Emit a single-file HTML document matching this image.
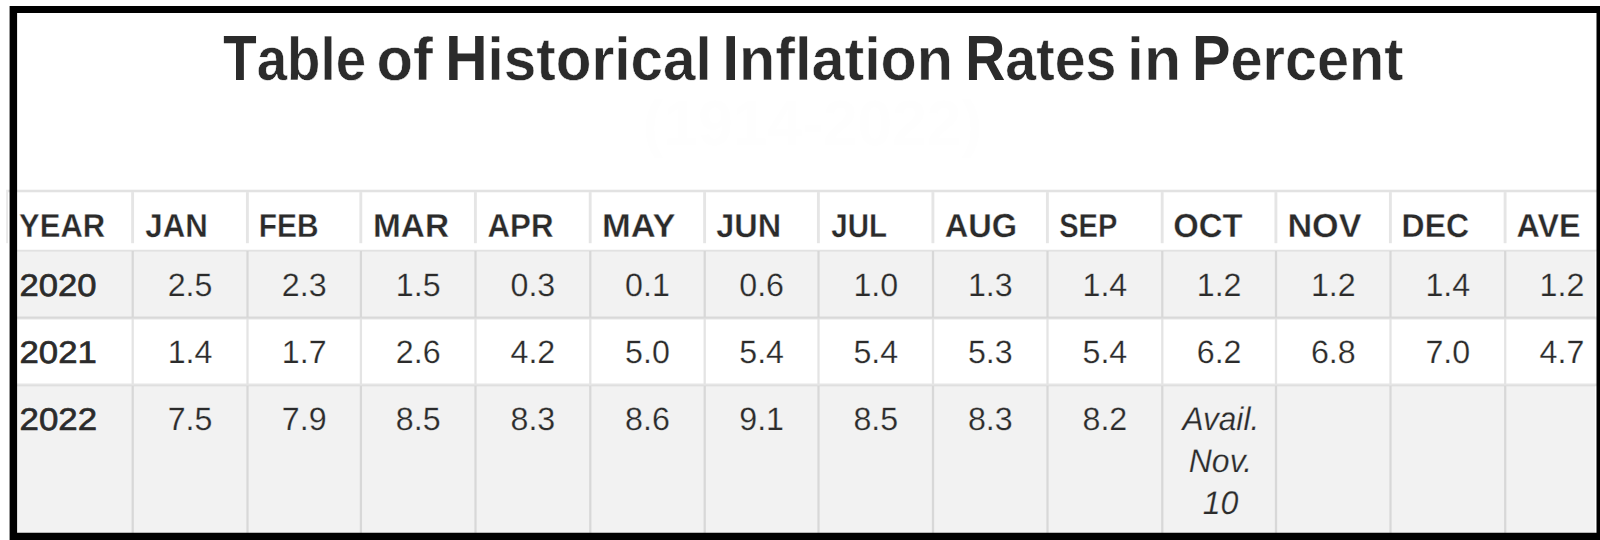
<!DOCTYPE html>
<html><head><meta charset="utf-8"><title>Table of Historical Inflation Rates in Percent</title>
<style>
*{margin:0;padding:0;box-sizing:border-box}
html,body{width:1600px;height:540px;overflow:hidden;background:#fff}
body{position:relative;font-family:"Liberation Sans",sans-serif;color:#2b2b2b}
.t{position:absolute;left:0;top:0;white-space:nowrap;line-height:1;transform-origin:0 0;text-rendering:geometricPrecision}
.lc{display:inline-block;transform:scaleY(0.95);transform-origin:0 53px;-webkit-text-stroke:0.55px #fff}
.b{font-weight:bold}.r{font-weight:normal}.i{font-style:italic;font-weight:normal}
</style></head><body>
<svg width="1600" height="540" viewBox="0 0 1600 540" style="position:absolute;left:0;top:0">
<defs><filter id="bl" x="-5%" y="-5%" width="110%" height="110%"><feGaussianBlur stdDeviation="0.6"/></filter><filter id="bf" x="-5%" y="-5%" width="110%" height="110%"><feGaussianBlur stdDeviation="0.4"/></filter></defs>
<rect x="17" y="250.5" width="1578" height="68" fill="#f2f2f2"/>
<rect x="17" y="385.5" width="1578" height="148" fill="#f2f2f2"/>
<g filter="url(#bl)">
<rect x="8.0" y="189.7" width="1590" height="2.6" fill="#000" fill-opacity="0.115"/>
<rect x="6.1" y="189.7" width="1.9" height="53.5" fill="#000" fill-opacity="0.085"/>
<rect x="131.15" y="192.3" width="2.9" height="50.9" fill="#000" fill-opacity="0.1"/>
<rect x="245.95" y="192.3" width="2.9" height="50.9" fill="#000" fill-opacity="0.1"/>
<rect x="359.35" y="192.3" width="2.9" height="50.9" fill="#000" fill-opacity="0.1"/>
<rect x="473.95" y="192.3" width="2.9" height="50.9" fill="#000" fill-opacity="0.1"/>
<rect x="588.75" y="192.3" width="2.9" height="50.9" fill="#000" fill-opacity="0.1"/>
<rect x="703.15" y="192.3" width="2.9" height="50.9" fill="#000" fill-opacity="0.1"/>
<rect x="816.95" y="192.3" width="2.9" height="50.9" fill="#000" fill-opacity="0.1"/>
<rect x="931.45" y="192.3" width="2.9" height="50.9" fill="#000" fill-opacity="0.1"/>
<rect x="1045.95" y="192.3" width="2.9" height="50.9" fill="#000" fill-opacity="0.1"/>
<rect x="1160.75" y="192.3" width="2.9" height="50.9" fill="#000" fill-opacity="0.1"/>
<rect x="1274.45" y="192.3" width="2.9" height="50.9" fill="#000" fill-opacity="0.1"/>
<rect x="1388.95" y="192.3" width="2.9" height="50.9" fill="#000" fill-opacity="0.1"/>
<rect x="1503.65" y="192.3" width="2.9" height="50.9" fill="#000" fill-opacity="0.1"/>
<rect x="17" y="249.7" width="1580" height="1.8" fill="#000" fill-opacity="0.09"/>
<rect x="131.55" y="251.3" width="2.3" height="65.3" fill="#000" fill-opacity="0.105"/>
<rect x="131.55" y="319.4" width="2.3" height="64.2" fill="#000" fill-opacity="0.105"/>
<rect x="131.55" y="386.2" width="2.3" height="147.8" fill="#000" fill-opacity="0.105"/>
<rect x="246.35" y="251.3" width="2.3" height="65.3" fill="#000" fill-opacity="0.105"/>
<rect x="246.35" y="319.4" width="2.3" height="64.2" fill="#000" fill-opacity="0.105"/>
<rect x="246.35" y="386.2" width="2.3" height="147.8" fill="#000" fill-opacity="0.105"/>
<rect x="359.75" y="251.3" width="2.3" height="65.3" fill="#000" fill-opacity="0.105"/>
<rect x="359.75" y="319.4" width="2.3" height="64.2" fill="#000" fill-opacity="0.105"/>
<rect x="359.75" y="386.2" width="2.3" height="147.8" fill="#000" fill-opacity="0.105"/>
<rect x="474.35" y="251.3" width="2.3" height="65.3" fill="#000" fill-opacity="0.105"/>
<rect x="474.35" y="319.4" width="2.3" height="64.2" fill="#000" fill-opacity="0.105"/>
<rect x="474.35" y="386.2" width="2.3" height="147.8" fill="#000" fill-opacity="0.105"/>
<rect x="589.15" y="251.3" width="2.3" height="65.3" fill="#000" fill-opacity="0.105"/>
<rect x="589.15" y="319.4" width="2.3" height="64.2" fill="#000" fill-opacity="0.105"/>
<rect x="589.15" y="386.2" width="2.3" height="147.8" fill="#000" fill-opacity="0.105"/>
<rect x="703.55" y="251.3" width="2.3" height="65.3" fill="#000" fill-opacity="0.105"/>
<rect x="703.55" y="319.4" width="2.3" height="64.2" fill="#000" fill-opacity="0.105"/>
<rect x="703.55" y="386.2" width="2.3" height="147.8" fill="#000" fill-opacity="0.105"/>
<rect x="817.35" y="251.3" width="2.3" height="65.3" fill="#000" fill-opacity="0.105"/>
<rect x="817.35" y="319.4" width="2.3" height="64.2" fill="#000" fill-opacity="0.105"/>
<rect x="817.35" y="386.2" width="2.3" height="147.8" fill="#000" fill-opacity="0.105"/>
<rect x="931.85" y="251.3" width="2.3" height="65.3" fill="#000" fill-opacity="0.105"/>
<rect x="931.85" y="319.4" width="2.3" height="64.2" fill="#000" fill-opacity="0.105"/>
<rect x="931.85" y="386.2" width="2.3" height="147.8" fill="#000" fill-opacity="0.105"/>
<rect x="1046.35" y="251.3" width="2.3" height="65.3" fill="#000" fill-opacity="0.105"/>
<rect x="1046.35" y="319.4" width="2.3" height="64.2" fill="#000" fill-opacity="0.105"/>
<rect x="1046.35" y="386.2" width="2.3" height="147.8" fill="#000" fill-opacity="0.105"/>
<rect x="1161.15" y="251.3" width="2.3" height="65.3" fill="#000" fill-opacity="0.105"/>
<rect x="1161.15" y="319.4" width="2.3" height="64.2" fill="#000" fill-opacity="0.105"/>
<rect x="1161.15" y="386.2" width="2.3" height="147.8" fill="#000" fill-opacity="0.105"/>
<rect x="1274.85" y="251.3" width="2.3" height="65.3" fill="#000" fill-opacity="0.105"/>
<rect x="1274.85" y="319.4" width="2.3" height="64.2" fill="#000" fill-opacity="0.105"/>
<rect x="1274.85" y="386.2" width="2.3" height="147.8" fill="#000" fill-opacity="0.105"/>
<rect x="1389.35" y="251.3" width="2.3" height="65.3" fill="#000" fill-opacity="0.105"/>
<rect x="1389.35" y="319.4" width="2.3" height="64.2" fill="#000" fill-opacity="0.105"/>
<rect x="1389.35" y="386.2" width="2.3" height="147.8" fill="#000" fill-opacity="0.105"/>
<rect x="1504.05" y="251.3" width="2.3" height="65.3" fill="#000" fill-opacity="0.105"/>
<rect x="1504.05" y="319.4" width="2.3" height="64.2" fill="#000" fill-opacity="0.105"/>
<rect x="1504.05" y="386.2" width="2.3" height="147.8" fill="#000" fill-opacity="0.105"/>
<rect x="17" y="316.5" width="1580" height="3.0" fill="#000" fill-opacity="0.1"/>
<rect x="17" y="383.5" width="1580" height="2.8" fill="#000" fill-opacity="0.1"/>
</g>
<path filter="url(#bf)" fill="#000" fill-rule="evenodd" d="M9.6 5.9H1610V550H9.6Z M17.1 13H1596.5V532.8H17.1Z"/>
</svg>
<span class="t b" style="font-size:63.8px;transform:translate(223.26px,27.00px) scaleX(0.8569);">T<span class="lc">able</span></span>
<span class="t b" style="font-size:63.8px;transform:translate(376.43px,27.00px) scaleX(0.9362);"><span class="lc">of</span></span>
<span class="t b" style="font-size:63.8px;transform:translate(445.30px,27.00px) scaleX(0.9168);">H<span class="lc">istorical</span></span>
<span class="t b" style="font-size:63.8px;transform:translate(722.55px,27.00px) scaleX(0.9290);">I<span class="lc">nflation</span></span>
<span class="t b" style="font-size:63.8px;transform:translate(965.30px,27.00px) scaleX(0.8696);">R<span class="lc">ates</span></span>
<span class="t b" style="font-size:63.8px;transform:translate(1127.08px,27.00px) scaleX(0.9508);"><span class="lc">in</span></span>
<span class="t b" style="font-size:63.8px;transform:translate(1192.06px,27.00px) scaleX(0.9032);">P<span class="lc">ercent</span></span>
<span class="t b" style="font-size:33.2px;transform:translate(19.07px,210.00px) scaleX(0.9333);-webkit-text-stroke:0.35px #fff;">YEAR</span>
<span class="t b" style="font-size:33.2px;transform:translate(145.29px,210.00px) scaleX(0.9407);-webkit-text-stroke:0.35px #fff;">JAN</span>
<span class="t b" style="font-size:33.2px;transform:translate(258.75px,210.00px) scaleX(0.8996);-webkit-text-stroke:0.35px #fff;">FEB</span>
<span class="t b" style="font-size:33.2px;transform:translate(372.98px,210.00px) scaleX(1.0069);-webkit-text-stroke:0.35px #fff;">MAR</span>
<span class="t b" style="font-size:33.2px;transform:translate(487.57px,210.00px) scaleX(0.9410);-webkit-text-stroke:0.35px #fff;">APR</span>
<span class="t b" style="font-size:33.2px;transform:translate(601.90px,210.00px) scaleX(1.0409);-webkit-text-stroke:0.35px #fff;">MAY</span>
<span class="t b" style="font-size:33.2px;transform:translate(716.27px,210.00px) scaleX(0.9763);-webkit-text-stroke:0.35px #fff;">JUN</span>
<span class="t b" style="font-size:33.2px;transform:translate(831.33px,210.00px) scaleX(0.8889);-webkit-text-stroke:0.35px #fff;">JUL</span>
<span class="t b" style="font-size:33.2px;transform:translate(944.77px,210.00px) scaleX(0.9822);-webkit-text-stroke:0.35px #fff;">AUG</span>
<span class="t b" style="font-size:33.2px;transform:translate(1059.21px,210.00px) scaleX(0.8737);-webkit-text-stroke:0.35px #fff;">SEP</span>
<span class="t b" style="font-size:33.2px;transform:translate(1173.32px,210.00px) scaleX(0.9882);-webkit-text-stroke:0.35px #fff;">OCT</span>
<span class="t b" style="font-size:33.2px;transform:translate(1287.43px,210.00px) scaleX(1.0290);-webkit-text-stroke:0.35px #fff;">NOV</span>
<span class="t b" style="font-size:33.2px;transform:translate(1401.60px,210.00px) scaleX(0.9615);-webkit-text-stroke:0.35px #fff;">DEC</span>
<span class="t b" style="font-size:33.2px;transform:translate(1516.59px,210.00px) scaleX(0.9714);-webkit-text-stroke:0.35px #fff;">AVE</span>
<span class="t r" style="font-size:31.3px;transform:translate(19.52px,270.10px) scaleX(1.1052);-webkit-text-stroke:0.65px #2b2b2b;">2020</span>
<span class="t r" style="font-size:32.2px;transform:translate(167.72px,269.20px);-webkit-text-stroke:0.25px #f2f2f2;">2.5</span>
<span class="t r" style="font-size:32.2px;transform:translate(281.82px,269.20px);-webkit-text-stroke:0.25px #f2f2f2;">2.3</span>
<span class="t r" style="font-size:32.2px;transform:translate(395.82px,269.20px);-webkit-text-stroke:0.25px #f2f2f2;">1.5</span>
<span class="t r" style="font-size:32.2px;transform:translate(510.52px,269.20px);-webkit-text-stroke:0.25px #f2f2f2;">0.3</span>
<span class="t r" style="font-size:32.2px;transform:translate(625.12px,269.20px);-webkit-text-stroke:0.25px #f2f2f2;">0.1</span>
<span class="t r" style="font-size:32.2px;transform:translate(739.23px,269.20px);-webkit-text-stroke:0.25px #f2f2f2;">0.6</span>
<span class="t r" style="font-size:32.2px;transform:translate(853.38px,269.20px);-webkit-text-stroke:0.25px #f2f2f2;">1.0</span>
<span class="t r" style="font-size:32.2px;transform:translate(967.88px,269.20px);-webkit-text-stroke:0.25px #f2f2f2;">1.3</span>
<span class="t r" style="font-size:32.2px;transform:translate(1082.53px,269.20px);-webkit-text-stroke:0.25px #f2f2f2;">1.4</span>
<span class="t r" style="font-size:32.2px;transform:translate(1196.78px,269.20px);-webkit-text-stroke:0.25px #f2f2f2;">1.2</span>
<span class="t r" style="font-size:32.2px;transform:translate(1310.88px,269.20px);-webkit-text-stroke:0.25px #f2f2f2;">1.2</span>
<span class="t r" style="font-size:32.2px;transform:translate(1425.47px,269.20px);-webkit-text-stroke:0.25px #f2f2f2;">1.4</span>
<span class="t r" style="font-size:32.2px;transform:translate(1539.58px,269.20px);-webkit-text-stroke:0.25px #f2f2f2;">1.2</span>
<span class="t r" style="font-size:31.3px;transform:translate(19.51px,337.10px) scaleX(1.1093);-webkit-text-stroke:0.65px #2b2b2b;">2021</span>
<span class="t r" style="font-size:32.2px;transform:translate(167.72px,336.20px);-webkit-text-stroke:0.25px #fff;">1.4</span>
<span class="t r" style="font-size:32.2px;transform:translate(281.82px,336.20px);-webkit-text-stroke:0.25px #fff;">1.7</span>
<span class="t r" style="font-size:32.2px;transform:translate(395.82px,336.20px);-webkit-text-stroke:0.25px #fff;">2.6</span>
<span class="t r" style="font-size:32.2px;transform:translate(510.52px,336.20px);-webkit-text-stroke:0.25px #fff;">4.2</span>
<span class="t r" style="font-size:32.2px;transform:translate(625.12px,336.20px);-webkit-text-stroke:0.25px #fff;">5.0</span>
<span class="t r" style="font-size:32.2px;transform:translate(739.23px,336.20px);-webkit-text-stroke:0.25px #fff;">5.4</span>
<span class="t r" style="font-size:32.2px;transform:translate(853.38px,336.20px);-webkit-text-stroke:0.25px #fff;">5.4</span>
<span class="t r" style="font-size:32.2px;transform:translate(967.88px,336.20px);-webkit-text-stroke:0.25px #fff;">5.3</span>
<span class="t r" style="font-size:32.2px;transform:translate(1082.53px,336.20px);-webkit-text-stroke:0.25px #fff;">5.4</span>
<span class="t r" style="font-size:32.2px;transform:translate(1196.78px,336.20px);-webkit-text-stroke:0.25px #fff;">6.2</span>
<span class="t r" style="font-size:32.2px;transform:translate(1310.88px,336.20px);-webkit-text-stroke:0.25px #fff;">6.8</span>
<span class="t r" style="font-size:32.2px;transform:translate(1425.47px,336.20px);-webkit-text-stroke:0.25px #fff;">7.0</span>
<span class="t r" style="font-size:32.2px;transform:translate(1539.58px,336.20px);-webkit-text-stroke:0.25px #fff;">4.7</span>
<span class="t r" style="font-size:31.3px;transform:translate(19.51px,404.10px) scaleX(1.1134);-webkit-text-stroke:0.65px #2b2b2b;">2022</span>
<span class="t r" style="font-size:32.2px;transform:translate(167.72px,403.20px);-webkit-text-stroke:0.25px #f2f2f2;">7.5</span>
<span class="t r" style="font-size:32.2px;transform:translate(281.82px,403.20px);-webkit-text-stroke:0.25px #f2f2f2;">7.9</span>
<span class="t r" style="font-size:32.2px;transform:translate(395.82px,403.20px);-webkit-text-stroke:0.25px #f2f2f2;">8.5</span>
<span class="t r" style="font-size:32.2px;transform:translate(510.52px,403.20px);-webkit-text-stroke:0.25px #f2f2f2;">8.3</span>
<span class="t r" style="font-size:32.2px;transform:translate(625.12px,403.20px);-webkit-text-stroke:0.25px #f2f2f2;">8.6</span>
<span class="t r" style="font-size:32.2px;transform:translate(739.23px,403.20px);-webkit-text-stroke:0.25px #f2f2f2;">9.1</span>
<span class="t r" style="font-size:32.2px;transform:translate(853.38px,403.20px);-webkit-text-stroke:0.25px #f2f2f2;">8.5</span>
<span class="t r" style="font-size:32.2px;transform:translate(967.88px,403.20px);-webkit-text-stroke:0.25px #f2f2f2;">8.3</span>
<span class="t r" style="font-size:32.2px;transform:translate(1082.53px,403.20px);-webkit-text-stroke:0.25px #f2f2f2;">8.2</span>
<span class="t i" style="font-size:32.8px;transform:translate(1182.46px,403.20px) scaleX(0.9641);-webkit-text-stroke:0.25px #f2f2f2;">Avail.</span>
<span class="t i" style="font-size:32.8px;transform:translate(1188.78px,445.20px) scaleX(0.9748);-webkit-text-stroke:0.25px #f2f2f2;">Nov.</span>
<span class="t i" style="font-size:32.8px;transform:translate(1202.77px,487.40px) scaleX(0.9786);-webkit-text-stroke:0.25px #f2f2f2;">10</span>
<span class="t b" style="font-size:63.8px;transform:translate(642.83px,92.00px) scaleX(0.9765);color:#fefefe;">(1914-2022)</span>
</body></html>
